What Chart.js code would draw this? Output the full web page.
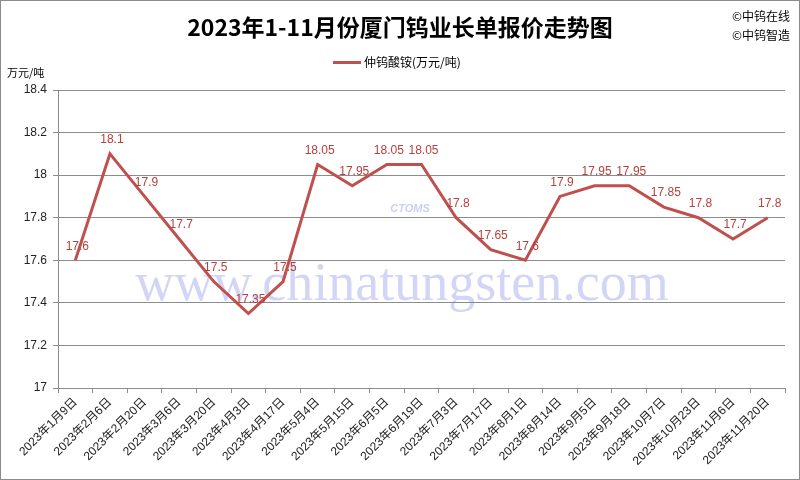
<!DOCTYPE html>
<html>
<head>
<meta charset="utf-8">
<script src="https://cdn.jsdelivr.net/npm/chart.js@4.4.0/dist/chart.umd.min.js"></script>
<style>
body{margin:0;background:#fff;}
#wrap{width:800px;height:480px;position:relative;}
</style>
</head>
<body>
<div id="wrap"><canvas id="priceChart" width="800" height="480"></canvas></div>
<script>

// 2023 Xiamen Tungsten long-term APT quotes
const dates = [
"2023年1月9日","2023年2月6日","2023年2月20日","2023年3月6日","2023年3月20日",
"2023年4月3日","2023年4月17日","2023年5月4日","2023年5月15日","2023年6月5日",
"2023年6月19日","2023年7月3日","2023年7月17日","2023年8月1日","2023年8月14日",
"2023年9月5日","2023年9月18日","2023年10月7日","2023年10月23日","2023年11月6日",
"2023年11月20日"
];

const aptPrice = [
17.6,18.1,17.9,17.7,17.5,
17.35,17.5,18.05,17.95,18.05,
18.05,17.8,17.65,17.6,17.9,
17.95,17.95,17.85,17.8,17.7,
17.8
];

const yTicks = [17,17.2,17.4,17.6,17.8,18,18.2,18.4];

const lineColor = "#C0504D";
const font = '"Liberation Sans","Noto Sans CJK SC",sans-serif';


// title, legend, unit, watermark, border, value labels
const decor = {

id:"decor",

beforeDatasetsDraw(chart){

const ctx = chart.ctx;

ctx.save();

ctx.fillStyle = "rgba(105,115,225,0.30)";
ctx.font = '54px "Liberation Serif",serif';
ctx.textAlign = "center";
ctx.textBaseline = "alphabetic";
ctx.fillText("www.chinatungsten.com",402,300);

ctx.fillStyle = "rgba(105,115,225,0.35)";
ctx.font = 'italic bold 11px "Liberation Sans",sans-serif';
ctx.fillText("CTOMS",410,212);

ctx.restore();

},

afterDatasetsDraw(chart){

const ctx = chart.ctx;
const meta = chart.getDatasetMeta(0);

ctx.save();

ctx.fillStyle = "#B5403D";
ctx.font = "12px "+font;
ctx.textAlign = "center";
ctx.textBaseline = "bottom";

meta.data.forEach((pt,i)=>{

ctx.fillText(String(aptPrice[i]),pt.x+2,pt.y-8);

});

ctx.restore();

},

afterDraw(chart){

const ctx = chart.ctx;

ctx.save();

ctx.strokeStyle = "#8c8c8c";
ctx.lineWidth = 1;
ctx.strokeRect(0.5,0.5,799,479);

ctx.fillStyle = "#000";
ctx.font = 'bold 23px "Noto Sans CJK SC",sans-serif';
ctx.textAlign = "center";
ctx.textBaseline = "middle";
ctx.fillText("2023年1-11月份厦门钨业长单报价走势图",400,27);

ctx.font = '12px "Noto Sans CJK SC",sans-serif';
ctx.textAlign = "right";
ctx.fillText("©中钨在线",790,16);
ctx.fillText("©中钨智造",790,35);

ctx.fillStyle = lineColor;
ctx.fillRect(333,61,28,3);

ctx.fillStyle = "#000";
ctx.textAlign = "left";
ctx.fillText("仲钨酸铵(万元/吨)",364,62);

ctx.font = '11px "Noto Sans CJK SC",sans-serif';
ctx.fillText("万元/吨",7,73);

ctx.restore();

}

};


const priceChart =
new Chart(
document.getElementById("priceChart"),
{

type:"line",

data:{

labels:dates,

datasets:[{

label:"仲钨酸铵(万元/吨)",

data:aptPrice,

borderColor:lineColor,

borderWidth:3,

pointRadius:0,

tension:0,

fill:false

}]

},

options:{

responsive:false,

animation:false,

layout:{padding:{top:90,right:15,bottom:12,left:0}},

plugins:{

legend:{display:false},

title:{display:false},

tooltip:{enabled:false}

},

scales:{

x:{

offset:true,

afterFit(scale){ scale.height = 80; },

grid:{

display:true,

drawOnChartArea:false,

offset:true,

tickLength:5,

color:"#8c8c8c"

},

border:{color:"#8c8c8c"},

ticks:{

autoSkip:false,

maxRotation:45,

minRotation:45,

color:"#222",

font:{size:12,family:font},

padding:2

}

},

y:{

min:17,

max:18.4,

afterFit(scale){ scale.width = 58; },

afterBuildTicks(scale){

scale.ticks = yTicks.map(v=>({value:v}));

},

grid:{

color:"#8c8c8c",

tickLength:5

},

border:{color:"#8c8c8c"},

ticks:{

color:"#222",

font:{size:12,family:font},

padding:6,

callback:v=>String(v)

}

}

}

},

plugins:[decor]

});

</script>
</body>
</html>
